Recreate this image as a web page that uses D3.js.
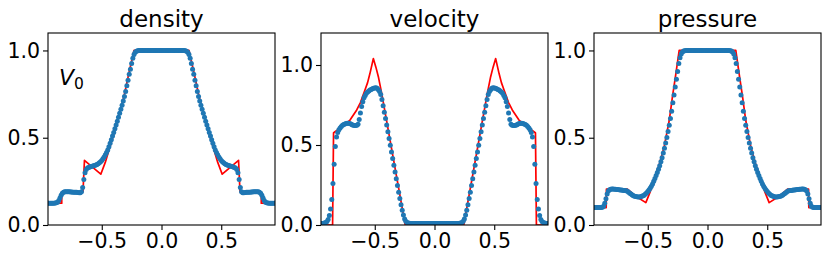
<!DOCTYPE html>
<html>
<head>
<meta charset="utf-8">
<script src="https://cdn.jsdelivr.net/npm/d3@7"></script>
<style>
  body { margin: 0; background: #fff; }
  svg text { font-family: "DejaVu Sans", sans-serif; }
</style>
</head>
<body>
<div id="chart"></div>
<script>
// cell centres of the numerical solution
var xCells = [
  -0.95,-0.94,-0.93,-0.92,-0.91,-0.90,-0.89,-0.88,-0.87,-0.86,
  -0.85,-0.84,-0.83,-0.82,-0.81,-0.80,-0.79,-0.78,-0.77,-0.76,
  -0.75,-0.74,-0.73,-0.72,-0.71,-0.70,-0.69,-0.68,-0.67,-0.66,
  -0.65,-0.64,-0.63,-0.62,-0.61,-0.60,-0.59,-0.58,-0.57,-0.56,
  -0.55,-0.54,-0.53,-0.52,-0.51,-0.50,-0.49,-0.48,-0.47,-0.46,
  -0.45,-0.44,-0.43,-0.42,-0.41,-0.40,-0.39,-0.38,-0.37,-0.36,
  -0.35,-0.34,-0.33,-0.32,-0.31,-0.30,-0.29,-0.28,-0.27,-0.26,
  -0.25,-0.24,-0.23,-0.22,-0.21,-0.20,-0.19,-0.18,-0.17,-0.16,
  -0.15,-0.14,-0.13,-0.12,-0.11,-0.10,-0.09,-0.08,-0.07,-0.06,
  -0.05,-0.04,-0.03,-0.02,-0.01,0.00,0.01,0.02,0.03,0.04,
  0.05,0.06,0.07,0.08,0.09,0.10,0.11,0.12,0.13,0.14,
  0.15,0.16,0.17,0.18,0.19,0.20,0.21,0.22,0.23,0.24,
  0.25,0.26,0.27,0.28,0.29,0.30,0.31,0.32,0.33,0.34,
  0.35,0.36,0.37,0.38,0.39,0.40,0.41,0.42,0.43,0.44,
  0.45,0.46,0.47,0.48,0.49,0.50,0.51,0.52,0.53,0.54,
  0.55,0.56,0.57,0.58,0.59,0.60,0.61,0.62,0.63,0.64,
  0.65,0.66,0.67,0.68,0.69,0.70,0.71,0.72,0.73,0.74,
  0.75,0.76,0.77,0.78,0.79,0.80,0.81,0.82,0.83,0.84,
  0.85,0.86,0.87,0.88,0.89,0.90,0.91,0.92,0.93,0.94,
  0.95
];

var densityNum = [
  0.125,0.125,0.125,0.125,0.125,0.125,0.126,0.127,0.13,0.14,
  0.155,0.17,0.182,0.188,0.19,0.191,0.191,0.19,0.19,0.189,
  0.189,0.188,0.188,0.187,0.187,0.186,0.185,0.185,0.19,0.215,
  0.26,0.30,0.318,0.326,0.33,0.333,0.335,0.337,0.339,0.341,
  0.344,0.347,0.351,0.356,0.362,0.37,0.38,0.39,0.402,0.415,
  0.43,0.448,0.468,0.488,0.51,0.53,0.552,0.573,0.595,0.617,
  0.64,0.663,0.686,0.71,0.736,0.765,0.798,0.83,0.864,0.893,
  0.925,0.955,0.977,0.99,0.996,0.999,1,1,1,1,
  1,1,1,1,1,1,1,1,1,1,
  1,1,1,1,1,1,1,1,1,1,
  1,1,1,1,1,1,1,1,1,1,
  1,1,1,1,1,0.999,0.996,0.99,0.977,0.955,
  0.925,0.893,0.864,0.83,0.798,0.765,0.736,0.71,0.686,0.663,
  0.64,0.617,0.595,0.573,0.552,0.53,0.51,0.488,0.468,0.448,
  0.43,0.415,0.402,0.39,0.38,0.37,0.362,0.356,0.351,0.347,
  0.344,0.341,0.339,0.337,0.335,0.333,0.33,0.326,0.318,0.30,
  0.26,0.215,0.19,0.185,0.185,0.186,0.187,0.187,0.188,0.188,
  0.189,0.189,0.19,0.19,0.191,0.191,0.19,0.188,0.182,0.17,
  0.155,0.14,0.13,0.127,0.126,0.125,0.125,0.125,0.125,0.125,
  0.125
];

var velocityNum = [
  0.01,0.01,0.011,0.012,0.015,0.022,0.035,0.06,0.10,0.16,
  0.26,0.38,0.49,0.55,0.578,0.595,0.607,0.616,0.623,0.628,
  0.632,0.635,0.636,0.636,0.634,0.631,0.627,0.624,0.622,0.622,
  0.624,0.63,0.66,0.70,0.74,0.77,0.795,0.81,0.823,0.832,
  0.838,0.843,0.847,0.851,0.855,0.857,0.858,0.855,0.845,0.835,
  0.815,0.785,0.745,0.705,0.665,0.625,0.583,0.541,0.499,0.457,
  0.415,0.373,0.331,0.289,0.247,0.205,0.165,0.127,0.092,0.062,
  0.038,0.024,0.016,0.012,0.011,0.01,0.01,0.01,0.01,0.01,
  0.01,0.01,0.01,0.01,0.01,0.01,0.01,0.01,0.01,0.01,
  0.01,0.01,0.01,0.01,0.01,0.01,0.01,0.01,0.01,0.01,
  0.01,0.01,0.01,0.01,0.01,0.01,0.01,0.01,0.01,0.01,
  0.01,0.01,0.01,0.01,0.01,0.01,0.011,0.012,0.016,0.024,
  0.038,0.062,0.092,0.127,0.165,0.205,0.247,0.289,0.331,0.373,
  0.415,0.457,0.499,0.541,0.583,0.625,0.665,0.705,0.745,0.785,
  0.815,0.835,0.845,0.855,0.858,0.857,0.855,0.851,0.847,0.843,
  0.838,0.832,0.823,0.81,0.795,0.77,0.74,0.70,0.66,0.63,
  0.624,0.622,0.622,0.624,0.627,0.631,0.634,0.636,0.636,0.635,
  0.632,0.628,0.623,0.616,0.607,0.595,0.578,0.55,0.49,0.38,
  0.26,0.16,0.10,0.06,0.035,0.022,0.015,0.012,0.011,0.01,
  0.01
];

var pressureNum = [
  0.1,0.1,0.1,0.1,0.1,0.1,0.1,0.102,0.108,0.125,
  0.15,0.178,0.195,0.202,0.205,0.206,0.206,0.205,0.205,0.204,
  0.203,0.202,0.201,0.2,0.199,0.198,0.197,0.196,0.193,0.188,
  0.182,0.177,0.172,0.168,0.165,0.163,0.162,0.161,0.161,0.162,
  0.164,0.167,0.171,0.177,0.184,0.192,0.201,0.211,0.222,0.235,
  0.25,0.266,0.283,0.301,0.32,0.34,0.362,0.386,0.412,0.44,
  0.47,0.502,0.536,0.572,0.61,0.652,0.70,0.745,0.79,0.835,
  0.88,0.925,0.958,0.979,0.991,0.997,0.999,1,1,1,
  1,1,1,1,1,1,1,1,1,1,
  1,1,1,1,1,1,1,1,1,1,
  1,1,1,1,1,1,1,1,1,1,
  1,1,1,1,0.999,0.997,0.991,0.979,0.958,0.925,
  0.88,0.835,0.79,0.745,0.70,0.652,0.61,0.572,0.536,0.502,
  0.47,0.44,0.412,0.386,0.362,0.34,0.32,0.301,0.283,0.266,
  0.25,0.235,0.222,0.211,0.201,0.192,0.184,0.177,0.171,0.167,
  0.164,0.162,0.161,0.161,0.162,0.163,0.165,0.168,0.172,0.177,
  0.182,0.188,0.193,0.196,0.197,0.198,0.199,0.2,0.201,0.202,
  0.203,0.204,0.205,0.205,0.206,0.206,0.205,0.202,0.195,0.178,
  0.15,0.125,0.108,0.102,0.1,0.1,0.1,0.1,0.1,0.1,
  0.1
];

// exact solution (red line)
var densityExactX = [-0.95,-0.835,-0.835,-0.657,-0.645,-0.508,-0.47,-0.439,-0.40,-0.369,-0.34,-0.314,-0.272,-0.23,
                     0.23,0.272,0.314,0.34,0.369,0.40,0.439,0.47,0.508,0.645,0.657,0.835,0.835,0.95];
var densityExactY = [0.125,0.125,0.19,0.19,0.37,0.291,0.36,0.431,0.52,0.603,0.67,0.737,0.872,1.0,
                     1.0,0.872,0.737,0.67,0.603,0.52,0.431,0.36,0.291,0.37,0.19,0.19,0.125,0.125];

var velocityExactX = [-0.95,-0.853,-0.845,-0.833,-0.78,-0.707,-0.651,-0.62,-0.582,-0.56,-0.54,-0.512,-0.49,-0.47,-0.442,-0.245,
                      0.245,0.442,0.47,0.49,0.512,0.54,0.56,0.582,0.62,0.651,0.707,0.78,0.833,0.845,0.853,0.95];
var velocityExactY = [0,0,0.575,0.583,0.61,0.656,0.719,0.765,0.844,0.89,0.948,1.04,0.985,0.927,0.823,0,
                      0,0.823,0.927,0.985,1.04,0.948,0.89,0.844,0.765,0.719,0.656,0.61,0.583,0.575,0,0];

var pressureExactX = [-0.95,-0.848,-0.846,-0.67,-0.6,-0.516,-0.48,-0.446,-0.40,-0.362,-0.32,-0.293,-0.264,-0.237,
                      0.237,0.264,0.293,0.32,0.362,0.40,0.446,0.48,0.516,0.6,0.67,0.846,0.848,0.95];
var pressureExactY = [0.1,0.1,0.205,0.205,0.165,0.128,0.19,0.259,0.355,0.45,0.60,0.737,0.87,1.0,
                      1.0,0.87,0.737,0.60,0.45,0.355,0.259,0.19,0.128,0.165,0.205,0.205,0.1,0.1];

var titles = ['density', 'velocity', 'pressure'];
var yMaxes = [1.1, 1.2, 1.1];
var xTicks = [-0.5, 0, 0.5];
var yTicks = [0, 0.5, 1.0];

var W = 830, H = 261;
var plotTop = 33, plotW = 227, plotH = 192;
var lefts = [48, 321, 594];

var svg = d3.select('#chart').append('svg')
  .attr('width', W)
  .attr('height', H);

svg.append('rect').attr('width', W).attr('height', H).attr('fill', 'white');

var panels = [
  {num: densityNum, ex: densityExactX, ey: densityExactY},
  {num: velocityNum, ex: velocityExactX, ey: velocityExactY},
  {num: pressureNum, ex: pressureExactX, ey: pressureExactY}
];

panels.forEach(function(p, k) {
  var g = svg.append('g')
    .attr('transform', 'translate(' + lefts[k] + ',' + plotTop + ')');

  var x = d3.scaleLinear().domain([-0.95, 0.95]).range([0, plotW]);
  var y = d3.scaleLinear().domain([0, yMaxes[k]]).range([plotH, 0]);

  // clip marks to the axes box like matplotlib
  var clipId = 'clip' + k;
  g.append('clipPath').attr('id', clipId)
    .append('rect').attr('width', plotW).attr('height', plotH);

  var marks = g.append('g').attr('clip-path', 'url(#' + clipId + ')');

  var line = d3.line()
    .x(function(d, i) { return x(p.ex[i]); })
    .y(function(d) { return y(d); });

  marks.append('path')
    .datum(p.ey)
    .attr('d', line)
    .attr('fill', 'none')
    .attr('stroke', '#ff0000')
    .attr('stroke-width', 1.7)
    .attr('stroke-linejoin', 'round');

  marks.selectAll('circle').data(p.num).enter().append('circle')
    .attr('cx', function(d, i) { return x(xCells[i]); })
    .attr('cy', function(d) { return y(d); })
    .attr('r', 2.5)
    .attr('fill', '#1f77b4');

  // axes
  var xAxis = d3.axisBottom(x).tickValues(xTicks).tickSize(5).tickPadding(3)
    .tickFormat(d3.format('.1f'));
  var yAxis = d3.axisLeft(y).tickValues(yTicks).tickSize(5).tickPadding(3)
    .tickFormat(d3.format('.1f'));

  var xg = g.append('g').attr('transform', 'translate(0,' + plotH + ')').call(xAxis);
  var yg = g.append('g').call(yAxis);
  [xg, yg].forEach(function(a) {
    a.select('.domain').remove();
    a.selectAll('line').attr('stroke', '#000').attr('stroke-width', 1.1);
    a.selectAll('text').attr('font-size', 20.5).attr('fill', '#000')
      .attr('font-family', '"DejaVu Sans", sans-serif');
  });

  g.append('rect')
    .attr('width', plotW).attr('height', plotH)
    .attr('fill', 'none').attr('stroke', '#000').attr('stroke-width', 1.1);

  g.append('text')
    .attr('x', plotW / 2).attr('y', -6)
    .attr('text-anchor', 'middle')
    .attr('font-size', 23)
    .text(titles[k]);
});

// V_0 label in the first panel
var lab = svg.append('g');
lab.append('text').attr('x', 59).attr('y', 84.5)
  .attr('font-size', 22).attr('font-style', 'italic').text('V');
lab.append('text').attr('x', 74).attr('y', 89)
  .attr('font-size', 15.5).text('0');
</script>
</body>
</html>
